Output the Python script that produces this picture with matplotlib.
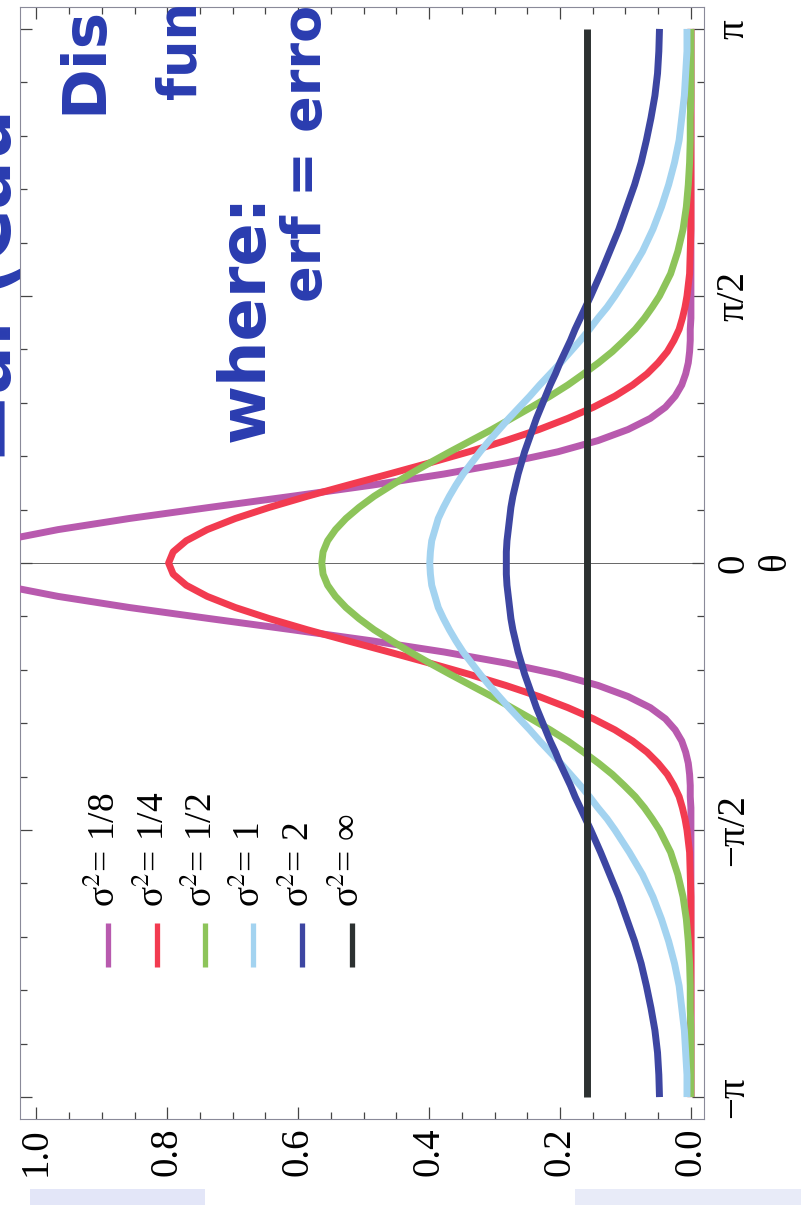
import numpy as np
import matplotlib
matplotlib.use("Agg")
import matplotlib.pyplot as plt
from matplotlib.lines import Line2D
from matplotlib.patches import Rectangle

plt.rcParams['font.family'] = ['Liberation Serif', 'DejaVu Serif']
plt.rcParams['mathtext.fontset'] = 'stix'

# ---------------- data ----------------
theta_deg = [-180, -172.5, -165, -157.5, -150, -142.5, -135, -127.5, -120, -112.5, -105, -97.5,
             -90, -86.25, -82.5, -78.75, -75, -71.25, -67.5, -63.75, -60, -56.25, -52.5, -48.75,
             -45, -41.25, -37.5, -33.75, -30, -26.25, -22.5, -18.75, -15, -11.25, -7.5, -3.75,
             0,
             3.75, 7.5, 11.25, 15, 18.75, 22.5, 26.25, 30, 33.75, 37.5, 41.25, 45,
             48.75, 52.5, 56.25, 60, 63.75, 67.5, 71.25, 75, 78.75, 82.5, 86.25, 90,
             97.5, 105, 112.5, 120, 127.5, 135, 142.5, 150, 157.5, 165, 172.5, 180]

dens_s18 = [0, 0, 0, 0, 0, 0, 0, 0, 0, 0, 0, 0,
            0.000, 0.000, 0.000, 0.001, 0.001, 0.002, 0.004, 0.008, 0.014, 0.024, 0.039, 0.062,
            0.096, 0.142, 0.203, 0.282, 0.377, 0.487, 0.609, 0.735, 0.858, 0.967, 1.054, 1.109,
            1.128,
            1.109, 1.054, 0.967, 0.858, 0.735, 0.609, 0.487, 0.377, 0.282, 0.203, 0.142, 0.096,
            0.062, 0.039, 0.024, 0.014, 0.008, 0.004, 0.002, 0.001, 0.001, 0.000, 0.000, 0.000,
            0, 0, 0, 0, 0, 0, 0, 0, 0, 0, 0, 0]
dens_s14 = [0, 0, 0, 0, 0, 0, 0, 0, 0, 0, 0.001, 0.002,
            0.006, 0.009, 0.013, 0.018, 0.026, 0.036, 0.050, 0.067, 0.089, 0.116, 0.149, 0.188,
            0.232, 0.283, 0.339, 0.399, 0.461, 0.524, 0.586, 0.644, 0.696, 0.739, 0.771, 0.791,
            0.798,
            0.791, 0.771, 0.739, 0.696, 0.644, 0.586, 0.524, 0.461, 0.399, 0.339, 0.283, 0.232,
            0.188, 0.149, 0.116, 0.089, 0.067, 0.050, 0.036, 0.026, 0.018, 0.013, 0.009, 0.006,
            0.002, 0.001, 0, 0, 0, 0, 0, 0, 0, 0, 0, 0]
dens_s12 = [0.000, 0.000, 0.000, 0.000, 0.001, 0.001, 0.002, 0.004, 0.007, 0.012, 0.020, 0.031,
            0.048, 0.059, 0.071, 0.085, 0.102, 0.120, 0.141, 0.164, 0.188, 0.215, 0.244, 0.274,
            0.304, 0.336, 0.368, 0.399, 0.429, 0.457, 0.484, 0.507, 0.527, 0.543, 0.555, 0.562,
            0.564,
            0.562, 0.555, 0.543, 0.527, 0.507, 0.484, 0.457, 0.429, 0.399, 0.368, 0.336, 0.304,
            0.274, 0.244, 0.215, 0.188, 0.164, 0.141, 0.120, 0.102, 0.085, 0.071, 0.059, 0.048,
            0.031, 0.020, 0.012, 0.007, 0.004, 0.002, 0.001, 0.001, 0.000, 0.000, 0.000, 0.000]
dens_s1 = [0.006, 0.006, 0.008, 0.010, 0.014, 0.018, 0.025, 0.034, 0.045, 0.058, 0.074, 0.094,
           0.116, 0.128, 0.142, 0.155, 0.169, 0.184, 0.199, 0.215, 0.231, 0.246, 0.262, 0.278,
           0.293, 0.308, 0.322, 0.335, 0.348, 0.359, 0.369, 0.378, 0.386, 0.391, 0.396, 0.398,
           0.399,
           0.398, 0.396, 0.391, 0.386, 0.378, 0.369, 0.359, 0.348, 0.335, 0.322, 0.308, 0.293,
           0.278, 0.262, 0.246, 0.231, 0.215, 0.199, 0.184, 0.169, 0.155, 0.142, 0.128, 0.116,
           0.094, 0.074, 0.058, 0.045, 0.034, 0.025, 0.018, 0.014, 0.010, 0.008, 0.006, 0.006]
dens_s2 = [0.048, 0.049, 0.051, 0.055, 0.061, 0.068, 0.076, 0.086, 0.098, 0.110, 0.124, 0.138,
           0.153, 0.161, 0.169, 0.177, 0.184, 0.192, 0.200, 0.207, 0.215, 0.222, 0.229, 0.236,
           0.242, 0.248, 0.254, 0.259, 0.264, 0.268, 0.272, 0.275, 0.277, 0.279, 0.281, 0.282,
           0.282,
           0.282, 0.281, 0.279, 0.277, 0.275, 0.272, 0.268, 0.264, 0.259, 0.254, 0.248, 0.242,
           0.236, 0.229, 0.222, 0.215, 0.207, 0.200, 0.192, 0.184, 0.177, 0.169, 0.161, 0.153,
           0.138, 0.124, 0.110, 0.098, 0.086, 0.076, 0.068, 0.061, 0.055, 0.051, 0.049, 0.048]
dens_sinf = [0.159] * 73

series = [dens_s18, dens_s14, dens_s12, dens_s1, dens_s2, dens_sinf]
legend_labels = ['σ$^{2}$= 1/8', 'σ$^{2}$= 1/4', 'σ$^{2}$= 1/2',
                 'σ$^{2}$= 1', 'σ$^{2}$= 2', 'σ$^{2}$= ∞']
colors = ['#b85aae', '#f23b50', '#8dc45a', '#a3d3f0', '#3d46a2', '#2c3131']

theta_ticks_lbl = ['−π', '−π/2', '0', 'π/2', 'π']
dens_ticks_lbl = ['0.0', '0.2', '0.4', '0.6', '0.8', '1.0']

# ---------------- figure ----------------
W, H = 801, 1205
fig = plt.figure(figsize=(W / 100, H / 100), dpi=100)
fx = lambda x: x / W
fy = lambda y: 1 - y / H

ax = fig.add_axes([fx(20), fy(1119), 684 / W, 1112 / H])
theta = np.deg2rad(theta_deg)

ax.axhline(0, color='#666666', lw=0.7, zorder=1)
for d, c in zip(series, colors):
    ax.plot(d, theta, color=c, lw=5, solid_capstyle='butt', solid_joinstyle='round', zorder=3)

ax.set_xlim(1.025, -0.02)
ax.set_ylim(-np.pi - 0.129, np.pi + 0.129)

ax.set_yticks([-np.pi, -np.pi / 2, 0, np.pi / 2, np.pi])
ax.set_yticklabels(theta_ticks_lbl)
ax.set_yticks(np.arange(-10, 11) * np.pi / 10, minor=True)
ax.set_xticks([0, 0.2, 0.4, 0.6, 0.8, 1.0])
ax.set_xticklabels(dens_ticks_lbl)
ax.set_xticks(np.arange(0, 21) * 0.05, minor=True)

ax.tick_params(which='both', direction='in', top=True, bottom=True, left=True, right=True,
               labelleft=False, labelright=True, color='#444444', width=0.9)
ax.tick_params(which='major', length=8.5)
ax.tick_params(which='minor', length=5)
ax.tick_params(axis='y', which='major', pad=8, labelsize=28)
ax.tick_params(axis='x', which='major', pad=6, labelsize=28)
for lab in ax.get_yticklabels():
    lab.set_rotation(90)
    lab.set_va('center')
    lab.set_ha('left')
for lab in ax.get_xticklabels():
    lab.set_rotation(90)
    lab.set_va('top')
    lab.set_ha('center')
for sp in ax.spines.values():
    sp.set_color('#8a8a99')
    sp.set_linewidth(0.8)

fig.text(fx(776), fy(562), 'θ', rotation=90, ha='center', va='center', fontsize=28)

# legend (rotated)
leg_x = [108, 157, 205, 253, 302, 352]
for x, c, lab in zip(leg_x, colors, legend_labels):
    fig.add_artist(Line2D([fx(x), fx(x)], [fy(923), fy(967)], color=c, lw=3.8,
                          solid_capstyle='butt'))
    fig.text(fx(x - 3), fy(907), lab, rotation=90, ha='center', va='bottom', fontsize=27)

# handwritten annotations (as on the scanned page)
ink = '#2a3cb0'
hw = dict(rotation=90, ha='center', va='bottom', color=ink, fontweight='bold',
          family=['DejaVu Sans'], zorder=10)
fig.text(fx(-8), fy(462), '▬al (Cau', fontsize=52, **hw)
fig.text(fx(85), fy(114), 'Dis', fontsize=44, **hw)
fig.text(fx(180), fy(99), 'fun', fontsize=38, **hw)
fig.text(fx(246), fy(442), 'where:', fontsize=46, **hw)
fig.text(fx(306), fy(302), 'erf = erro', fontsize=39, **hw)

# scan artefacts at the bottom edge
fig.add_artist(Rectangle((fx(30), 0), fx(205) - fx(30), 16 / H, transform=fig.transFigure,
                         color='#e3e6f8', lw=0))
fig.add_artist(Rectangle((fx(575), 0), 1 - fx(575), 16 / H, transform=fig.transFigure,
                         color='#e8ebf8', lw=0))

fig.savefig('out.png', dpi=100)
